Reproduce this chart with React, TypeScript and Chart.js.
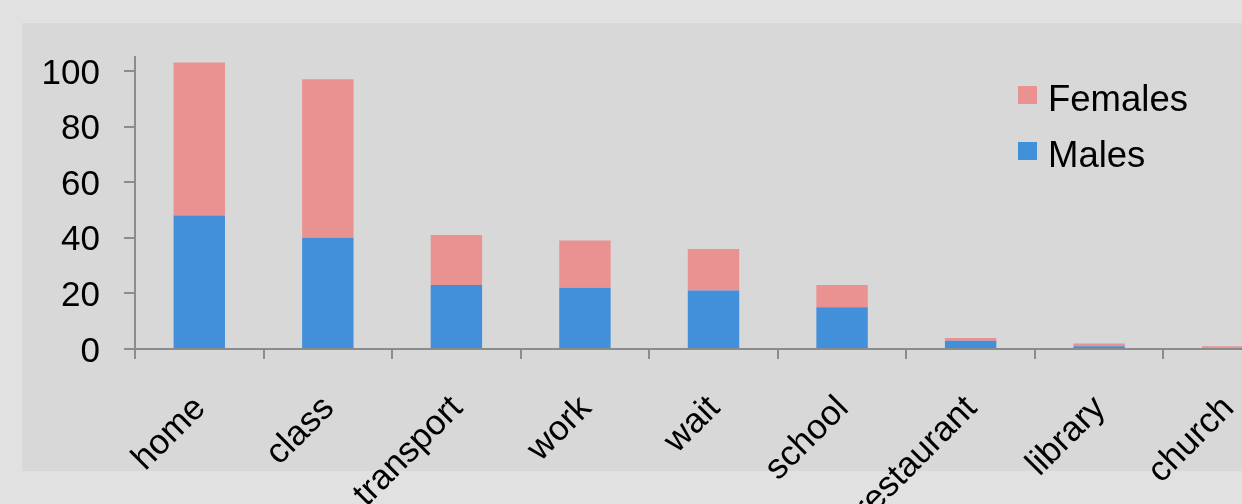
import React, { useEffect, useRef } from "react";
import { Chart, registerables } from "chart.js";

Chart.register(...registerables);

const categories = ["home", "class", "transport", "work", "wait", "school", "restaurant", "library", "church"];
const males = [48, 40, 23, 22, 21, 15, 3, 1, 0];
const females = [55, 57, 18, 17, 15, 8, 1, 1, 1];
const yTicks = [0, 20, 40, 60, 80, 100];

const seriesNames = ["Males", "Females"];
const seriesColors = ["#4290DA", "#EA9292"];

const FONT = "'Liberation Sans', Arial, Helvetica, sans-serif";
const AXIS = "#8c8c8c";

export default function App() {
  const ref = useRef<HTMLCanvasElement | null>(null);

  useEffect(() => {
    if (!ref.current) return;
    const chart = new Chart(ref.current, {
      type: "bar",
      data: {
        labels: categories,
        datasets: [
          { label: seriesNames[0], data: males, backgroundColor: seriesColors[0], borderWidth: 0 },
          { label: seriesNames[1], data: females, backgroundColor: seriesColors[1], borderWidth: 0 },
        ],
      },
      options: {
        animation: false,
        responsive: false,
        maintainAspectRatio: false,
        layout: { padding: { left: 0, top: 57, right: 28, bottom: 0 } },
        datasets: { bar: { categoryPercentage: 1, barPercentage: 0.4 } },
        plugins: { legend: { display: false }, tooltip: { enabled: false } },
        scales: {
          x: {
            stacked: true,
            grid: { offset: true, drawOnChartArea: false, drawTicks: true, tickLength: 10, color: AXIS, lineWidth: 2 },
            border: { display: true, color: AXIS, width: 2 },
            ticks: {
              autoSkip: false,
              minRotation: 45,
              maxRotation: 45,
              padding: 29,
              labelOffset: 1,
              color: "#000",
              font: { size: 35, family: FONT },
            },
            afterFit: (s: any) => {
              s.height = 155;
            },
          },
          y: {
            stacked: true,
            min: 0,
            max: 105,
            grid: { drawOnChartArea: false, drawTicks: true, tickLength: 11, color: AXIS, lineWidth: 2 },
            border: { display: true, color: AXIS, width: 2 },
            ticks: {
              stepSize: 20,
              includeBounds: false,
              padding: 24,
              labelOffset: 3,
              color: "#000",
              font: { size: 35, family: FONT },
            },
            afterBuildTicks: (s: any) => {
              s.ticks = yTicks.map((v) => ({ value: v }));
            },
            afterFit: (s: any) => {
              s.width = 135;
            },
          },
        },
      },
    });
    return () => chart.destroy();
  }, []);

  const legendItems = [1, 0];

  return (
    <div
      style={{
        position: "fixed",
        left: 0,
        top: 0,
        width: 1242,
        height: 504,
        overflow: "hidden",
        background: "#e1e1e1",
      }}
    >
      <div
        style={{
          position: "absolute",
          left: 22,
          top: 23,
          width: 1300,
          height: 448,
          background: "#d8d8d8",
        }}
      />
      <canvas
        ref={ref}
        width={1320}
        height={504}
        style={{ position: "absolute", left: 0, top: 0, width: 1320, height: 504 }}
      />
      {legendItems.map((i, row) => (
        <div
          key={i}
          style={{
            position: "absolute",
            left: 1018,
            top: 81 + row * 56,
            height: 36,
            display: "flex",
            alignItems: "flex-start",
            fontFamily: FONT,
            fontSize: 36.5,
            lineHeight: "36px",
            color: "#000",
            whiteSpace: "nowrap",
          }}
        >
          <div style={{ width: 19, height: 18, marginTop: 5, background: seriesColors[i] }} />
          <span style={{ marginLeft: 11 }}>{seriesNames[i]}</span>
        </div>
      ))}
    </div>
  );
}
